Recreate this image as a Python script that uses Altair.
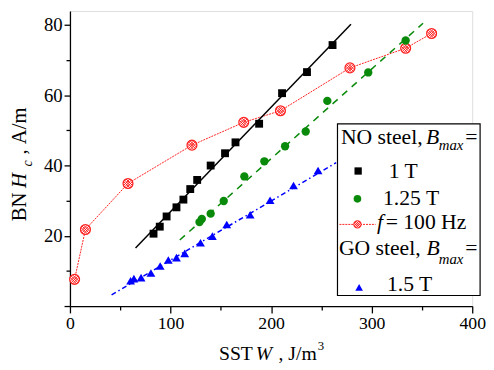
import altair as alt
import pandas as pd

# ---- data ----
# NO steel, Bmax = 1 T
w_1T = [83.1, 89.3, 96.1, 105.9, 112.8, 119.6, 126.5, 139.9, 154.2, 164.6, 188.1, 210.9, 235.7, 261.1]
hc_1T = [20.6, 22.6, 25.5, 28.1, 30.3, 33.3, 35.9, 40.0, 43.5, 46.6, 51.9, 60.6, 66.6, 74.3]
# NO steel, Bmax = 1.25 T
w_125T = [128.8, 131.1, 139.9, 152.9, 173.4, 193.3, 213.9, 234.4, 255.9, 296.6, 333.8]
hc_125T = [23.9, 24.8, 26.3, 29.9, 36.9, 41.2, 45.5, 49.7, 58.4, 66.5, 75.6]
# NO steel, f = 100 Hz
w_100Hz = [4.6, 15.4, 57.7, 121.3, 172.8, 209.3, 278.4, 333.8, 359.6]
hc_100Hz = [7.6, 21.8, 34.9, 45.8, 52.3, 55.6, 67.8, 73.4, 77.6]
# GO steel, Bmax = 1.5 T
w_15T = [60.3, 63.6, 70.7, 80.5, 89.7, 97.8, 105.9, 114.1, 129.8, 141.6, 155.9, 179.2, 199.0, 222.3, 246.7]
hc_15T = [7.2, 7.8, 8.1, 9.4, 11.4, 13.1, 13.8, 15.0, 18.0, 19.9, 23.2, 26.0, 30.1, 34.3, 38.6]
# fitted lines (end points)
fit_1T_w = [65.2, 279.4]
fit_1T_hc = [16.5, 80.2]
fit_125T_w = [109.2, 351.1]
fit_125T_hc = [18.8, 80.5]
fit_15T_w = [41.4, 264.7]
fit_15T_hc = [3.2, 40.8]

x_ticks = [0, 50, 100, 150, 200, 250, 300, 350, 400]
y_ticks = [0, 10, 20, 30, 40, 50, 60, 70, 80]

FONT = "Liberation Serif"
W, H = 409, 300

xs = alt.Scale(domain=[0, 400], nice=False, zero=False)
ys = alt.Scale(domain=[0, 84], nice=False, zero=False)

x_axis = alt.Axis(
    values=x_ticks, title=None, grid=False,
    labelExpr="datum.value % 100 === 0 ? datum.label : ''",
    tickSize={"condition": {"test": "datum.value % 100 === 0", "value": 7}, "value": 4},
    labelFont=FONT, labelFontSize=18, labelColor="black", labelPadding=2,
    labelOverlap=False, labelFlush=False,
    domainColor="black", domainWidth=1.3, tickColor="black", tickWidth=1.3,
)
y_axis = alt.Axis(
    values=y_ticks, title=None, grid=False,
    labelExpr="datum.value % 20 === 0 && datum.value > 0 ? datum.label : ''",
    tickSize={"condition": {"test": "datum.value % 20 === 0", "value": 6}, "value": 4},
    labelFont=FONT, labelFontSize=19, labelColor="black", labelPadding=2,
    labelOverlap=False, labelFlush=False,
    domainColor="black", domainWidth=1.3, tickColor="black", tickWidth=1.3,
)

X = alt.X("W:Q", scale=xs, axis=x_axis)
Y = alt.Y("Hc:Q", scale=ys, axis=y_axis)


def df(w, h):
    return pd.DataFrame({"W": w, "Hc": h})


RED = "#ff2020"

red_line = alt.Chart(df(w_100Hz, hc_100Hz)).mark_line(
    color=RED, strokeWidth=1, strokeDash=[2, 1]).encode(x=X, y=Y)
red_circ = alt.Chart(df(w_100Hz, hc_100Hz)).mark_point(
    shape="circle", size=100, filled=True, fill="white", stroke=RED, strokeWidth=1.3, opacity=1
).encode(x=X, y=Y)
HATCH = ("M-0.91,-0.41L0.41,0.91M-0.41,-0.91L0.91,0.41"
         "M-0.41,0.91L0.91,-0.41M-0.91,0.41L0.41,-0.91"
         "M-0.7,-0.7L0.7,0.7M-0.7,0.7L0.7,-0.7")
red_hatch = alt.Chart(df(w_100Hz, hc_100Hz)).mark_point(
    shape=HATCH, size=100, filled=False, stroke=RED, strokeWidth=1.0, opacity=1
).encode(x=X, y=Y)

black_fit = alt.Chart(df(fit_1T_w, fit_1T_hc)).mark_line(
    color="black", strokeWidth=1.5).encode(x=X, y=Y)
black_pts = alt.Chart(df(w_1T, hc_1T)).mark_point(
    shape="square", size=64, filled=True, color="black", opacity=1).encode(x=X, y=Y)

GREEN = "#0a8a0a"
green_fit = alt.Chart(df(fit_125T_w, fit_125T_hc)).mark_line(
    color=GREEN, strokeWidth=1.5, strokeDash=[7, 6]).encode(x=X, y=Y)
green_pts = alt.Chart(df(w_125T, hc_125T)).mark_point(
    shape="circle", size=72, filled=True, color=GREEN, opacity=1).encode(x=X, y=Y)

BLUE = "#0000ff"
blue_fit = alt.Chart(df(fit_15T_w, fit_15T_hc)).mark_line(
    color=BLUE, strokeWidth=1.5, strokeDash=[5, 3, 1.5, 3]).encode(x=X, y=Y)
blue_pts = alt.Chart(df(w_15T, hc_15T)).mark_point(
    shape="triangle-up", size=80, filled=True, color=BLUE, opacity=1).encode(x=X, y=Y)

dummy = pd.DataFrame({"d": [0]})


def txt(s, cx, cy, size=22, italic=False, angle=0):
    kw = dict(text=s, font=FONT, fontSize=size, align="left", baseline="alphabetic",
              color="black")
    if italic:
        kw["fontStyle"] = "italic"
    if angle:
        kw["angle"] = angle
    return alt.Chart(dummy).mark_text(**kw).encode(x=alt.value(cx), y=alt.value(cy))


# legend box
leg_box = alt.Chart(dummy).mark_rect(fill="white", stroke="black", strokeWidth=1.2).encode(
    x=alt.value(272), x2=alt.value(417), y=alt.value(114.7), y2=alt.value(289.3))

leg = [
    leg_box,
    txt("NO steel, ", 275.5, 135),
    txt("B", 362, 135, italic=True),
    txt("max", 375, 141.7, size=15, italic=True),
    txt("=", 402, 135),
    alt.Chart(dummy).mark_point(shape="square", size=55, filled=True, color="black", opacity=1)
    .encode(x=alt.value(293), y=alt.value(162.7)),
    txt("1 T", 324, 170),
    alt.Chart(dummy).mark_point(shape="circle", size=60, filled=True, color=GREEN, opacity=1)
    .encode(x=alt.value(292.3), y=alt.value(191)),
    txt("1.25 T", 318.3, 197.3),
    alt.Chart(dummy).mark_rule(color=RED, strokeWidth=1, strokeDash=[2, 1])
    .encode(x=alt.value(274), x2=alt.value(310.7), y=alt.value(217)),
    alt.Chart(dummy).mark_point(shape="circle", size=55, filled=True, fill="white", stroke=RED,
                                strokeWidth=1.1, opacity=1)
    .encode(x=alt.value(292.3), y=alt.value(217)),
    alt.Chart(dummy).mark_point(shape=HATCH, size=55, filled=False, stroke=RED, strokeWidth=0.9,
                                opacity=1)
    .encode(x=alt.value(292.3), y=alt.value(217)),
    txt("f", 312.3, 222, italic=True),
    txt("= 100 Hz", 321, 222),
    txt("GO steel, ", 273.5, 248),
    txt("B", 362.5, 248, italic=True),
    txt("max", 375, 257, size=15, italic=True),
    txt("=", 402, 248),
    alt.Chart(dummy).mark_point(shape="triangle-up", size=60, filled=True, color=BLUE, opacity=1)
    .encode(x=alt.value(294), y=alt.value(281)),
    txt("1.5 T", 322.3, 284.7),
]

# axis titles built from pieces (italics, sub/superscripts)
titles = [
    txt("SST", 151.5, 354.7, size=20),
    txt("W", 189, 354.7, size=20, italic=True),
    txt(", J/m", 212, 354.7, size=20),
    txt("3", 252, 345, size=13),
    txt("BN ", -45, 213.7, size=21, angle=270),
    txt("H", -45, 180, size=21, italic=True, angle=270),
    txt("c", -39, 158, size=14, italic=True, angle=270),
    txt(",", -45, 146, size=21, angle=270),
    txt("A/m", -45, 135.5, size=21, angle=270),
]

chart = alt.layer(
    red_line, red_circ, red_hatch,
    black_fit, black_pts,
    green_fit, green_pts,
    blue_fit, blue_pts,
    *leg, *titles,
).properties(
    width=W, height=H,
    autosize=alt.AutoSizeParams(type="none"),
    padding={"left": 63, "top": 0, "right": 14, "bottom": 62},
).configure_view(stroke=None).configure(background="white")

chart.save("out.html", embed_options={"renderer": "svg", "actions": False})
